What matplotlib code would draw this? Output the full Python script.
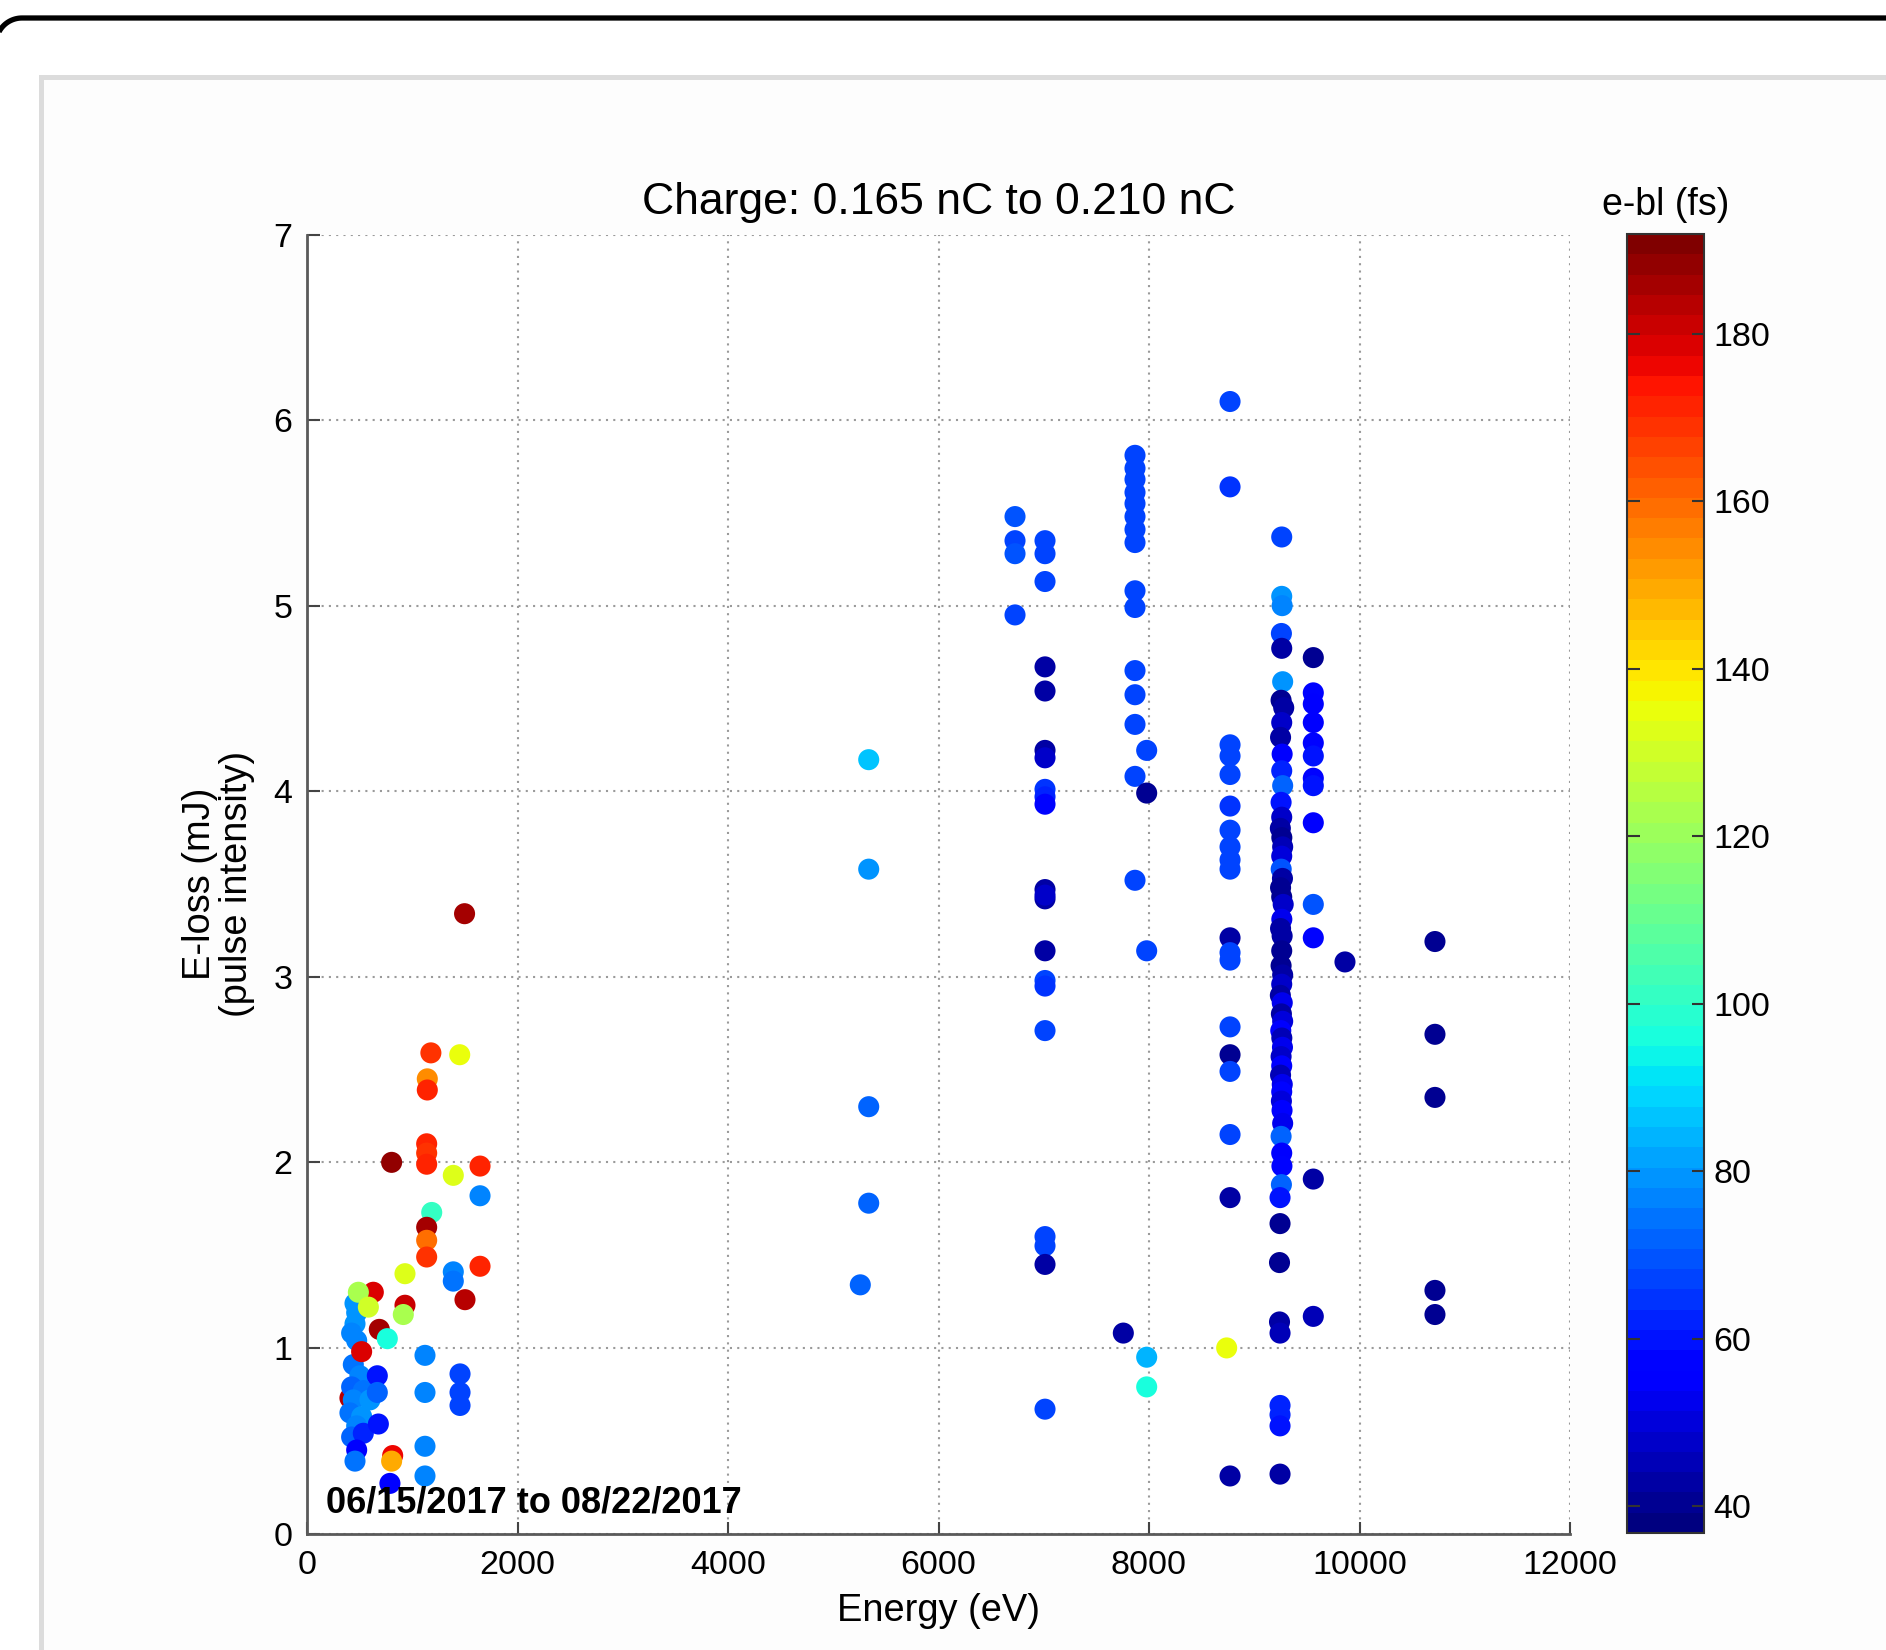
import matplotlib
matplotlib.use("Agg")
import numpy as np
import matplotlib.pyplot as plt
from matplotlib.patches import Rectangle
from matplotlib.lines import Line2D

plt.rcParams['font.family'] = ['Liberation Sans', 'DejaVu Sans']

# ---------------- data ----------------
title_text = "Charge: 0.165 nC to 0.210 nC"
x_label = "Energy (eV)"
y_label = "E-loss (mJ)\n(pulse intensity)"
cbar_label = "e-bl (fs)"
date_text = "06/15/2017 to 08/22/2017"

x_ticks = [0, 2000, 4000, 6000, 8000, 10000, 12000]
y_ticks = [0, 1, 2, 3, 4, 5, 6, 7]
cbar_ticks = [40, 60, 80, 100, 120, 140, 160, 180]
cbar_min, cbar_max = 36.8, 191.9

# low-energy cluster
low_energy = [408, 440, 503, 424, 535, 440, 598, 408, 519, 472, 424, 535,
              456, 472, 456, 424, 472,
              804, 1137, 1137, 1137, 1390, 1644, 1644, 1185, 1137, 1137, 1137,
              1390, 1390, 1644, 1501, 931, 630, 488, 583, 931, 915, 687, 763,
              519, 1121, 1454, 1454, 1454, 1121, 668, 668, 678, 472, 456, 814,
              804, 788, 1121, 1121,
              1497, 1451, 1177, 1143, 1143]
low_eloss = [0.73, 0.91, 0.85, 0.79, 0.77, 0.72, 0.72, 0.65, 0.63, 0.58, 0.52, 0.54,
             1.24, 1.19, 1.13, 1.08, 1.04,
             2.00, 2.10, 2.05, 1.99, 1.93, 1.98, 1.82, 1.73, 1.65, 1.58, 1.49,
             1.41, 1.36, 1.44, 1.26, 1.40, 1.30, 1.30, 1.22, 1.23, 1.18, 1.10, 1.05,
             0.98, 0.96, 0.86, 0.76, 0.69, 0.76, 0.85, 0.76, 0.59, 0.45, 0.39, 0.42,
             0.39, 0.27, 0.47, 0.31,
             3.34, 2.58, 2.59, 2.45, 2.39]
low_ebl = [184, 74, 76, 72, 74, 76, 78, 74, 78, 76, 72, 62,
           80, 78, 78, 76, 76,
           188, 172, 170, 172, 133, 172, 76, 102, 186, 160, 170,
           76, 74, 172, 184, 132, 178, 124, 130, 182, 124, 186, 96,
           178, 76, 66, 68, 68, 76, 60, 72, 60, 56, 74, 176,
           150, 56, 76, 76,
           186, 134, 170, 155, 172]

# ~5300 eV
mid_energy = [5337, 5337, 5337, 5337, 5257]
mid_eloss = [4.17, 3.58, 2.30, 1.78, 1.34]
mid_ebl = [86, 80, 72, 72, 72]

# ~6700-7000 eV
c7_energy = [6727, 6727, 6727, 6727,
             7012, 7012, 7012, 7012, 7012, 7012, 7012, 7012, 7012, 7012, 7012,
             7012, 7012, 7012, 7012, 7012, 7012, 7012, 7012, 7012, 7012]
c7_eloss = [5.48, 5.35, 5.28, 4.95,
            5.35, 5.28, 5.13, 4.67, 4.54, 4.22, 4.18, 4.01, 3.97, 3.93, 3.47,
            3.42, 3.14, 2.98, 2.95, 2.71, 1.60, 1.55, 1.45, 0.67, 3.44]
c7_ebl = [70, 68, 70, 68,
          67, 66, 68, 42, 42, 44, 48, 64, 62, 58, 44,
          44, 44, 66, 64, 67, 67, 66, 42, 66, 48]

# ~7800-8000 eV
c8_energy = [7867, 7867, 7867, 7867, 7867, 7867, 7867, 7867, 7867, 7867, 7867,
             7867, 7867, 7867, 7867, 7978, 7978, 7978, 7978, 7978, 7756]
c8_eloss = [5.81, 5.74, 5.68, 5.61, 5.55, 5.48, 5.41, 5.34, 5.08, 4.99, 4.65,
            4.52, 4.36, 4.08, 3.52, 4.22, 3.99, 3.14, 0.95, 0.79, 1.08]
c8_ebl = [66, 67, 66, 67, 66, 67, 66, 67, 67, 67, 67,
          66, 67, 66, 67, 67, 40, 68, 84, 96, 42]

# ~8750 eV
c9_energy = [8770] * 19 + [8738]
c9_eloss = [6.10, 5.64, 4.25, 4.19, 4.09, 3.92, 3.79, 3.70, 3.63, 3.58,
            3.21, 3.13, 3.09, 2.73, 2.58, 2.49, 2.15, 1.81, 0.31, 1.00]
c9_ebl = [66, 64, 66, 67, 66, 64, 66, 67, 67, 66,
          44, 67, 66, 67, 40, 66, 67, 42, 42, 134]

# dense column ~9260 eV
c10_energy = [9261, 9261, 9265, 9258, 9261, 9270, 9255, 9280, 9261, 9250, 9265,
              9261, 9270, 9255, 9261, 9248, 9262, 9270, 9261, 9256, 9268, 9250,
              9261, 9275, 9262, 9250, 9265, 9261, 9255, 9270, 9261, 9248, 9266,
              9258, 9270, 9252, 9262, 9268, 9255, 9261, 9250, 9266, 9261, 9258,
              9264, 9270, 9255, 9261, 9263, 9258, 9245, 9245, 9240, 9240, 9245,
              9245, 9245, 9245]
c10_eloss = [5.37, 5.05, 5.00, 4.85, 4.77, 4.59, 4.49, 4.45, 4.37, 4.29, 4.20,
             4.11, 4.03, 3.94, 3.86, 3.80, 3.75, 3.70, 3.65, 3.58, 3.53, 3.48,
             3.43, 3.39, 3.31, 3.26, 3.22, 3.14, 3.06, 3.01, 2.96, 2.90, 2.86,
             2.80, 2.76, 2.71, 2.67, 2.62, 2.57, 2.52, 2.47, 2.42, 2.38, 2.33,
             2.28, 2.21, 2.14, 2.05, 1.98, 1.88, 1.81, 1.67, 1.46, 1.14, 1.08,
             0.69, 0.64, 0.58]
c10_ebl = [68, 80, 76, 66, 42, 80, 40, 44, 48, 42, 54,
           62, 72, 60, 48, 42, 40, 46, 50, 70, 42, 40,
           40, 48, 52, 44, 42, 40, 40, 44, 48, 42, 52,
           44, 50, 56, 46, 52, 48, 56, 46, 52, 58, 50,
           56, 52, 72, 54, 58, 72, 60, 40, 40, 44, 46,
           62, 62, 60]
c10b_energy = [9245]
c10b_eloss = [0.32]
c10b_ebl = [42]

# ~9560 eV and beyond
c11_energy = [9561] * 13 + [9862] + [10717] * 5
c11_eloss = [4.72, 4.53, 4.47, 4.37, 4.26, 4.19, 4.07, 4.03, 3.83, 3.39, 3.21, 1.91, 1.17,
             3.08, 3.19, 2.69, 2.35, 1.31, 1.18]
c11_ebl = [40, 58, 56, 56, 58, 60, 58, 60, 56, 70, 58, 42, 46,
           42, 40, 40, 40, 40, 40]

energy = (low_energy + mid_energy + c7_energy + c8_energy + c9_energy +
          c10_energy + c10b_energy + c11_energy)
eloss = (low_eloss + mid_eloss + c7_eloss + c8_eloss + c9_eloss +
         c10_eloss + c10b_eloss + c11_eloss)
ebl = (low_ebl + mid_ebl + c7_ebl + c8_ebl + c9_ebl +
       c10_ebl + c10b_ebl + c11_ebl)

# ---------------- figure ----------------
W, H = 1886, 1650
fig = plt.figure(figsize=(W / 100, H / 100), dpi=100)
fig.patch.set_facecolor('white')

# background decoration (screenshot frame + panel)
bg = fig.add_axes([0, 0, 1, 1], zorder=-10)
bg.set_xlim(0, W)
bg.set_ylim(H, 0)
bg.axis('off')
bg.add_patch(Rectangle((40.5, 77), 3000, 3000, facecolor='#fdfdfd',
                       edgecolor='#dcdcdc', linewidth=3.6))
r = 26
cx, cy = 22, 18 + r
ang = np.linspace(np.pi, 1.5 * np.pi, 30)
frame_x = list(cx + r * np.cos(ang)) + [W + 10]
frame_y = list(cy + r * np.sin(ang)) + [18]
bg.add_line(Line2D(frame_x, frame_y, color='black', linewidth=3.8,
                   solid_capstyle='butt', solid_joinstyle='round'))

# main axes
ax = fig.add_axes([307 / W, 1 - 1533.5 / H, 1263 / W, 1299 / H])
ax.set_facecolor('white')
cmap = plt.get_cmap('jet', 64)
sc = ax.scatter(energy, eloss, c=ebl, cmap=cmap, vmin=cbar_min, vmax=cbar_max,
                s=230, edgecolors='none', zorder=3)

ax.set_xlim(0, 12000)
ax.set_ylim(0, 7)
ax.set_xticks(x_ticks)
ax.set_yticks(y_ticks)
ax.set_xticklabels([str(t) for t in x_ticks])
ax.set_yticklabels([str(t) for t in y_ticks])
ax.tick_params(axis='both', direction='in', length=9, width=1.5,
               colors='#444444', labelcolor='black', labelsize=24.5)
ax.tick_params(axis='x', pad=12)
ax.tick_params(axis='y', pad=10.5)
ax.grid(True, linestyle=(0, (1, 2.5)), linewidth=1.5, color='#9a9a9a', zorder=0)
ax.set_axisbelow(True)
for side in ['top', 'right']:
    ax.spines[side].set_visible(False)
for side in ['left', 'bottom']:
    ax.spines[side].set_color('#5a5a5a')
    ax.spines[side].set_linewidth(2)

ax.set_title(title_text, fontsize=32, pad=14.5)
ax.set_xlabel(x_label, fontsize=27.4)
ax.xaxis.set_label_coords(0.5, -0.046)
ax.set_ylabel(y_label, fontsize=27.4, linespacing=1.05)
ax.yaxis.set_label_coords(-0.041, 0.5)

ax.text(0.015, 0.0165, date_text, transform=ax.transAxes, fontsize=26,
        fontweight='bold', ha='left', va='baseline', zorder=5)

# colorbar
cax = fig.add_axes([1627 / W, 1 - 1533 / H, 77 / W, 1299 / H])
cb = fig.colorbar(sc, cax=cax, ticks=cbar_ticks)
cb.outline.set_edgecolor('#333333')
cb.outline.set_linewidth(1.5)
cax.tick_params(direction='in', left=True, right=True, length=9, width=1.5,
                colors='#333333', labelcolor='black', labelsize=24.5, pad=7)
cax.set_title(cbar_label, fontsize=27, pad=14)

fig.savefig('out.png', dpi=100)
